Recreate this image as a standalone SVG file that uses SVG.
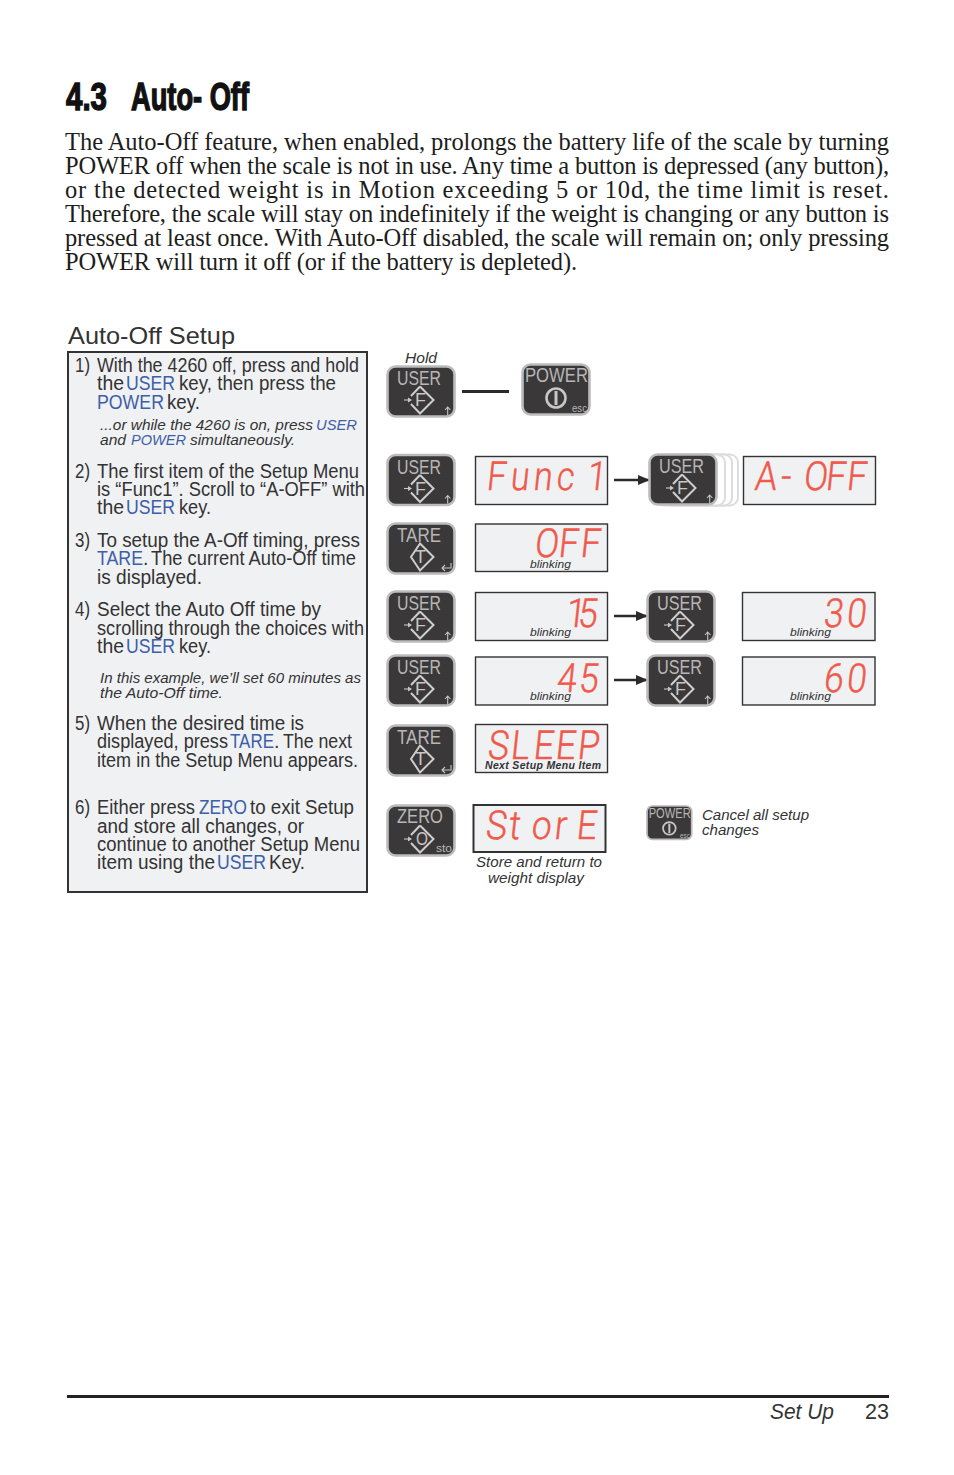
<svg xmlns="http://www.w3.org/2000/svg" width="954" height="1475" viewBox="0 0 954 1475">
<style>
text{font-family:"Liberation Sans",Arial,sans-serif;fill:#333}
.h{font-size:38.500px;font-weight:700;fill:#111;stroke:#111;stroke-width:1.400}
.p{font-family:"Liberation Serif","Times New Roman",serif;font-size:24.500px;fill:#1d1d1b}
.b{font-size:19.500px}
.u{fill:#3d5ea8}
.i{font-size:14.500px;font-style:italic}
.cap{font-size:15px;font-style:italic}
.bl{font-size:11px;font-style:italic}
.k{font-size:21px;fill:#b8b6b6}
.l{font-size:18px;fill:#c8c6c6;text-anchor:middle}
.s{font-size:10.500px;fill:#b8b6b6}
.seg{font-family:Roboto,"Liberation Sans",sans-serif;font-size:40px;font-weight:300;fill:#ef5a4c;stroke:#ef5a4c;stroke-width:.5}
.d{fill:#f0f1f3;stroke:#333;stroke-width:1.400}
.body{fill:#3a3839;stroke:#bdbcbc;stroke-width:2.600}
.ic{fill:none;stroke:#cfcdcd;stroke-width:2}
.sm{fill:none;stroke:#c8c6c6;stroke-width:1.100}
.ln{fill:none;stroke:#2b2a29;stroke-width:2.400}
</style>
<defs>
<marker id="ah" markerWidth="12" markerHeight="10" refX="11" refY="5" orient="auto" markerUnits="userSpaceOnUse"><path d="M0 0L12 5L0 10Z" fill="#2b2a29"/></marker>
<g id="kb"><rect class="body" x="1.500" y="1.500" width="67" height="50" rx="8"/></g>
<g id="dm"><path class="ic" d="M34 21.500L47.500 35L34 48.500L25 39M25 31L34 21.500"/></g>
<g id="dt"><path class="ic" d="M34 21.500L47.500 35L34 48.500L25 35Z"/></g>
<g id="la"><path class="sm" d="M18 35H24"/><path d="M22 32.500L26 35L22 37.500Z" fill="#c8c6c6"/></g>
<g id="ua"><path class="sm" d="M61.700 50V42M59 45L61.700 42L64.400 45"/></g>
<g id="ra"><path class="sm" d="M65 41V46H56M59 43L56 46L59 49"/></g>
</defs>

<g id="heading"><text class="h" x="66" y="109.500" textLength="41" lengthAdjust="spacingAndGlyphs">4.3</text><text class="h" x="131" y="109.500" textLength="118" lengthAdjust="spacingAndGlyphs">Auto- Off</text></g>

<g id="intro">
<text class="p" x="65" y="150" textLength="824">The Auto-Off feature, when enabled, prolongs the battery life of the scale by turning</text>
<text class="p" x="65" y="174" textLength="824">POWER off when the scale is not in use. Any time a button is depressed (any button),</text>
<text class="p" x="65" y="198" textLength="824">or the detected weight is in Motion exceeding 5 or 10d, the time limit is reset.</text>
<text class="p" x="65" y="222" textLength="824">Therefore, the scale will stay on indefinitely if the weight is changing or any button is</text>
<text class="p" x="65" y="246" textLength="824">pressed at least once. With Auto-Off disabled, the scale will remain on; only pressing</text>
<text class="p" x="65" y="270" textLength="512">POWER will turn it off (or if the battery is depleted).</text>
</g>

<text id="setup-title" x="68" y="344" font-size="24.500" textLength="167" lengthAdjust="spacingAndGlyphs">Auto-Off Setup</text>

<g id="steps">
<rect x="68" y="352" width="299" height="540" fill="#f0f1f3" stroke="#333" stroke-width="2"/>
<text class="b" x="75" y="372" textLength="15" lengthAdjust="spacingAndGlyphs">1)</text>
<text class="b" x="97" y="372" textLength="262" lengthAdjust="spacingAndGlyphs">With the 4260 off, press and hold</text>
<text class="b" x="97" y="390" textLength="27" lengthAdjust="spacingAndGlyphs">the</text><text class="b u" x="126" y="390" textLength="49" lengthAdjust="spacingAndGlyphs">USER</text><text class="b" x="179" y="390" textLength="157" lengthAdjust="spacingAndGlyphs">key, then press the</text>
<text class="b u" x="97" y="409" textLength="67" lengthAdjust="spacingAndGlyphs">POWER</text><text class="b" x="167" y="409" textLength="33" lengthAdjust="spacingAndGlyphs">key.</text>
<text class="b" x="75" y="478" textLength="15" lengthAdjust="spacingAndGlyphs">2)</text>
<text class="b" x="97" y="478" textLength="262" lengthAdjust="spacingAndGlyphs">The first item of the Setup Menu</text>
<text class="b" x="97" y="496" textLength="268" lengthAdjust="spacingAndGlyphs">is “Func1”. Scroll to “A-OFF” with</text>
<text class="b" x="97" y="514" textLength="27" lengthAdjust="spacingAndGlyphs">the</text><text class="b u" x="126" y="514" textLength="49" lengthAdjust="spacingAndGlyphs">USER</text><text class="b" x="179" y="514" textLength="32" lengthAdjust="spacingAndGlyphs">key.</text>
<text class="b" x="75" y="547" textLength="15" lengthAdjust="spacingAndGlyphs">3)</text>
<text class="b" x="97" y="547" textLength="263" lengthAdjust="spacingAndGlyphs">To setup the A-Off timing, press</text>
<text class="b u" x="97" y="565" textLength="46" lengthAdjust="spacingAndGlyphs">TARE</text><text class="b" x="143" y="565">.</text><text class="b" x="151" y="565" textLength="205" lengthAdjust="spacingAndGlyphs">The current Auto-Off time</text>
<text class="b" x="97" y="584" textLength="105" lengthAdjust="spacingAndGlyphs">is displayed.</text>
<text class="b" x="75" y="616" textLength="15" lengthAdjust="spacingAndGlyphs">4)</text>
<text class="b" x="97" y="616" textLength="224" lengthAdjust="spacingAndGlyphs">Select the Auto Off time by</text>
<text class="b" x="97" y="635" textLength="267" lengthAdjust="spacingAndGlyphs">scrolling through the choices with</text>
<text class="b" x="97" y="653" textLength="27" lengthAdjust="spacingAndGlyphs">the</text><text class="b u" x="126" y="653" textLength="49" lengthAdjust="spacingAndGlyphs">USER</text><text class="b" x="179" y="653" textLength="32" lengthAdjust="spacingAndGlyphs">key.</text>
<text class="b" x="75" y="730" textLength="15" lengthAdjust="spacingAndGlyphs">5)</text>
<text class="b" x="97" y="730" textLength="207" lengthAdjust="spacingAndGlyphs">When the desired time is</text>
<text class="b" x="97" y="748" textLength="131" lengthAdjust="spacingAndGlyphs">displayed, press</text><text class="b u" x="230" y="748" textLength="44" lengthAdjust="spacingAndGlyphs">TARE</text><text class="b" x="274" y="748">.</text><text class="b" x="283" y="748" textLength="69" lengthAdjust="spacingAndGlyphs">The next</text>
<text class="b" x="97" y="767" textLength="261" lengthAdjust="spacingAndGlyphs">item in the Setup Menu appears.</text>
<text class="b" x="75" y="814" textLength="15" lengthAdjust="spacingAndGlyphs">6)</text>
<text class="b" x="97" y="814" textLength="98" lengthAdjust="spacingAndGlyphs">Either press</text><text class="b u" x="199" y="814" textLength="48" lengthAdjust="spacingAndGlyphs">ZERO</text><text class="b" x="250" y="814" textLength="104" lengthAdjust="spacingAndGlyphs">to exit Setup</text>
<text class="b" x="97" y="833" textLength="207" lengthAdjust="spacingAndGlyphs">and store all changes, or</text>
<text class="b" x="97" y="851" textLength="263" lengthAdjust="spacingAndGlyphs">continue to another Setup Menu</text>
<text class="b" x="97" y="869" textLength="118" lengthAdjust="spacingAndGlyphs">item using the</text><text class="b u" x="217" y="869" textLength="49" lengthAdjust="spacingAndGlyphs">USER</text><text class="b" x="269" y="869" textLength="36" lengthAdjust="spacingAndGlyphs">Key.</text>
<text class="i" x="100" y="430" textLength="213" lengthAdjust="spacingAndGlyphs">...or while the 4260 is on, press</text><text class="i u" x="316" y="430" textLength="41" lengthAdjust="spacingAndGlyphs">USER</text>
<text class="i" x="100" y="445" textLength="26" lengthAdjust="spacingAndGlyphs">and</text><text class="i u" x="131" y="445" textLength="55" lengthAdjust="spacingAndGlyphs">POWER</text><text class="i" x="190" y="445" textLength="105" lengthAdjust="spacingAndGlyphs">simultaneously.</text>
<text class="i" x="100" y="683" textLength="261" lengthAdjust="spacingAndGlyphs">In this example, we’ll set 60 minutes as</text>
<text class="i" x="100" y="698" textLength="123" lengthAdjust="spacingAndGlyphs">the Auto-Off time.</text>
</g>

<g id="connectors">
<path class="ln" d="M462 391.500H509" style="stroke-width:3"/>
<path class="ln" d="M614 480H649" marker-end="url(#ah)"/>
<path class="ln" d="M614 616H647" marker-end="url(#ah)"/>
<path class="ln" d="M614 680H647" marker-end="url(#ah)"/>
</g>

<text id="hold" class="cap" x="405" y="363" textLength="32" lengthAdjust="spacingAndGlyphs">Hold</text>

<g id="key-user-1" transform="translate(386 365)"><use href="#kb"/><text class="k" x="11" y="20" textLength="44" lengthAdjust="spacingAndGlyphs">USER</text><use href="#dm"/><text class="l" x="34.500" y="41">F</text><use href="#la"/><use href="#ua"/></g>
<g id="key-power-1" transform="translate(521 363)"><use href="#kb"/><text class="k" x="4" y="19" textLength="63" lengthAdjust="spacingAndGlyphs">POWER</text><circle cx="35" cy="35" r="9.500" fill="none" stroke="#c8c6c6" stroke-width="2.600"/><path d="M35 28V42" stroke="#c8c6c6" stroke-width="3"/><text class="s" x="51" y="49" textLength="15" lengthAdjust="spacingAndGlyphs">esc</text></g>

<g id="key-user-2" transform="translate(386 453.500)"><use href="#kb"/><text class="k" x="11" y="20" textLength="44" lengthAdjust="spacingAndGlyphs">USER</text><use href="#dm"/><text class="l" x="34.500" y="41">F</text><use href="#la"/><use href="#ua"/></g>
<g id="display-func1"><rect class="d" x="475.500" y="456.500" width="132" height="48"/><text class="seg" transform="translate(486 490) skewX(-6) scale(.85 1)" x="0 28 55 82 100 118" y="0">Func 1</text></g>
<g id="key-ghosts" fill="#fff" stroke="#dddcdc" stroke-width="2"><rect x="669" y="454.500" width="69" height="51" rx="8"/><rect x="663" y="454.500" width="69" height="51" rx="8"/><rect x="656" y="454.500" width="69" height="51" rx="8"/></g>
<g id="key-user-3" transform="translate(648 453)"><use href="#kb"/><text class="k" x="11" y="20" textLength="45" lengthAdjust="spacingAndGlyphs">USER</text><use href="#dm"/><text class="l" x="34.500" y="41">F</text><use href="#la"/><use href="#ua"/></g>
<g id="display-aoff"><rect class="d" x="743.500" y="456.500" width="132" height="48"/><text class="seg" transform="translate(754 490) skewX(-6) scale(.88 1)" x="0 29.500 55.700 80.700 104.500" y="0">A-OFF</text></g>

<g id="key-tare-1" transform="translate(386 522)"><use href="#kb"/><text class="k" x="11" y="20" textLength="44" lengthAdjust="spacingAndGlyphs">TARE</text><use href="#dt"/><text class="l" x="34.500" y="41">T</text><use href="#ra"/></g>
<g id="display-off"><rect class="d" x="475.500" y="524" width="132" height="47.500"/><text class="seg" transform="translate(534 557) skewX(-6) scale(.88 1)" x="0 27 52" y="0">OFF</text><text class="bl" x="530" y="568" textLength="41" lengthAdjust="spacingAndGlyphs">blinking</text></g>

<g id="key-user-4" transform="translate(386 590)"><use href="#kb"/><text class="k" x="11" y="20" textLength="44" lengthAdjust="spacingAndGlyphs">USER</text><use href="#dm"/><text class="l" x="34.500" y="41">F</text><use href="#la"/><use href="#ua"/></g>
<g id="display-15"><rect class="d" x="475.500" y="592.500" width="132" height="48"/><text class="seg" transform="translate(565 627) skewX(-6) scale(.88 1)" x="0 13.600" y="0">15</text><text class="bl" x="530" y="636" textLength="41" lengthAdjust="spacingAndGlyphs">blinking</text></g>
<g id="key-user-5" transform="translate(646 590)"><use href="#kb"/><text class="k" x="11" y="20" textLength="45" lengthAdjust="spacingAndGlyphs">USER</text><use href="#dm"/><text class="l" x="34.500" y="41">F</text><use href="#la"/><use href="#ua"/></g>
<g id="display-30"><rect class="d" x="742.500" y="592.500" width="132.500" height="48"/><text class="seg" transform="translate(823 627) skewX(-6) scale(.88 1)" x="0 26" y="0">30</text><text class="bl" x="790" y="636" textLength="41" lengthAdjust="spacingAndGlyphs">blinking</text></g>

<g id="key-user-6" transform="translate(386 654)"><use href="#kb"/><text class="k" x="11" y="20" textLength="44" lengthAdjust="spacingAndGlyphs">USER</text><use href="#dm"/><text class="l" x="34.500" y="41">F</text><use href="#la"/><use href="#ua"/></g>
<g id="display-45"><rect class="d" x="475.500" y="657" width="132" height="48"/><text class="seg" transform="translate(556 692) skewX(-6) scale(.88 1)" x="0 25" y="0">45</text><text class="bl" x="530" y="700" textLength="41" lengthAdjust="spacingAndGlyphs">blinking</text></g>
<g id="key-user-7" transform="translate(646 654)"><use href="#kb"/><text class="k" x="11" y="20" textLength="45" lengthAdjust="spacingAndGlyphs">USER</text><use href="#dm"/><text class="l" x="34.500" y="41">F</text><use href="#la"/><use href="#ua"/></g>
<g id="display-60"><rect class="d" x="742.500" y="657" width="132.500" height="48"/><text class="seg" transform="translate(823 692) skewX(-6) scale(.88 1)" x="0 26" y="0">60</text><text class="bl" x="790" y="700" textLength="41" lengthAdjust="spacingAndGlyphs">blinking</text></g>

<g id="key-tare-2" transform="translate(386 724)"><use href="#kb"/><text class="k" x="11" y="20" textLength="44" lengthAdjust="spacingAndGlyphs">TARE</text><use href="#dt"/><text class="l" x="34.500" y="41">T</text><use href="#ra"/></g>
<g id="display-sleep"><rect class="d" x="475.500" y="724.500" width="132" height="48"/><text class="seg" transform="translate(487 759) skewX(-6) scale(.88 1)" x="0 26 52 77 102" y="0">SLEEP</text><text x="485" y="769" font-size="10.500" font-weight="700" font-style="italic" textLength="116">Next Setup Menu Item</text></g>

<g id="key-zero" transform="translate(386 804)"><use href="#kb"/><text class="k" x="11" y="19" textLength="46" lengthAdjust="spacingAndGlyphs">ZERO</text><use href="#dm"/><text class="l" x="36" y="41" textLength="12" lengthAdjust="spacingAndGlyphs">O</text><use href="#la"/><text class="s" x="50" y="48" textLength="16" lengthAdjust="spacingAndGlyphs">sto</text></g>
<g id="display-store"><rect class="d" x="473.500" y="805" width="132" height="47" style="stroke-width:2"/><text class="seg" transform="translate(485 839) skewX(-6) scale(.88 1)" x="0 26 52 78 103" y="0">StorE</text><text class="cap" x="476" y="867" textLength="126" lengthAdjust="spacingAndGlyphs">Store and return to</text><text class="cap" x="488" y="883" textLength="96" lengthAdjust="spacingAndGlyphs">weight display</text></g>

<g id="key-power-2" transform="translate(646 805) scale(.667)"><use href="#kb"/><text class="k" x="4" y="19" textLength="63" lengthAdjust="spacingAndGlyphs">POWER</text><circle cx="35" cy="35" r="9.500" fill="none" stroke="#c8c6c6" stroke-width="2.600"/><path d="M35 28V42" stroke="#c8c6c6" stroke-width="3"/><text class="s" x="51" y="49" textLength="15" lengthAdjust="spacingAndGlyphs">esc</text></g>
<text class="cap" x="702" y="820" textLength="107" lengthAdjust="spacingAndGlyphs">Cancel all setup</text>
<text class="cap" x="702" y="835" textLength="57" lengthAdjust="spacingAndGlyphs">changes</text>

<g id="footer"><path d="M67 1396.500H889" stroke="#222" stroke-width="3"/><text x="770" y="1419" font-size="22" font-style="italic" textLength="64" lengthAdjust="spacingAndGlyphs">Set Up</text><text x="865" y="1419" font-size="22" textLength="24" lengthAdjust="spacingAndGlyphs">23</text></g>
</svg>
